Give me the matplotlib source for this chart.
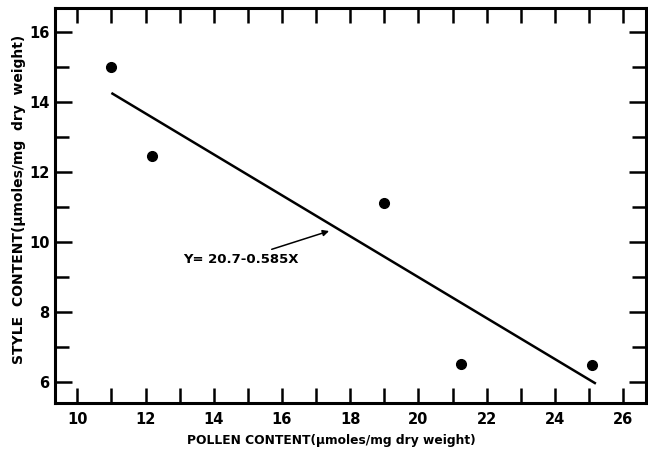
import matplotlib
matplotlib.use("Agg")
from matplotlib import pyplot as plt
from matplotlib.ticker import MultipleLocator

# Punti misurati (contenuto polline vs stilo)
polline = [11.0, 12.2, 19.0, 21.25, 25.1]
stilo = [15.0, 12.45, 11.12, 6.52, 6.5]

# Retta di regressione Y = 20.7 - 0.585X
retta_x = [11.0, 25.2]
intercetta = 20.7
pendenza = -0.585
etichetta_retta = "Y= 20.7-0.585X"

plt.rcParams["font.family"] = ["DejaVu Sans"]
plt.rcParams["font.weight"] = "bold"

fig = plt.figure(figsize=(6.48, 4.5), dpi=100)
ax = fig.add_axes([0.085, 0.104, 0.912, 0.878])

retta_y = [intercetta + pendenza * x for x in retta_x]
ax.plot(retta_x, retta_y, color="black", linewidth=1.8, solid_capstyle="butt")
ax.plot(polline, stilo, "o", color="black", markersize=7)

ax.annotate(
    etichetta_retta,
    xy=(17.38, 10.32), xytext=(16.5, 9.52),
    ha="right", va="center", fontsize=9.5, fontweight="bold",
    arrowprops=dict(arrowstyle="-|>", color="black", lw=1.1, mutation_scale=9,
                    shrinkA=1, shrinkB=0),
)

ax.set_xlim(9.35, 26.67)
ax.set_ylim(5.4, 16.69)
ax.xaxis.set_major_locator(MultipleLocator(2))
ax.xaxis.set_minor_locator(MultipleLocator(1))
ax.yaxis.set_major_locator(MultipleLocator(2))
ax.yaxis.set_minor_locator(MultipleLocator(1))

ax.tick_params(which="both", direction="in", top=True, right=True,
               width=1.8, colors="black")
ax.tick_params(axis="x", which="both", length=11, pad=6, labelsize=10.5)
ax.tick_params(axis="y", which="major", length=12, pad=4, labelsize=10.5)
ax.tick_params(axis="y", which="minor", length=10)
for etichetta in ax.get_xticklabels() + ax.get_yticklabels():
    etichetta.set_fontweight("bold")

for spina in ax.spines.values():
    spina.set_linewidth(2.2)

ax.set_xlabel("POLLEN CONTENT(μmoles/mg dry weight)", fontsize=8.8,
              fontweight="bold", va="center")
ax.xaxis.set_label_coords(0.467, -0.095, transform=ax.transAxes)
ax.set_ylabel("STYLE  CONTENT(μmoles/mg  dry  weight)", fontsize=10,
              fontweight="bold", va="center")
ax.yaxis.set_label_coords(-0.061, 0.517, transform=ax.transAxes)

fig.savefig("out.png", dpi=100)
